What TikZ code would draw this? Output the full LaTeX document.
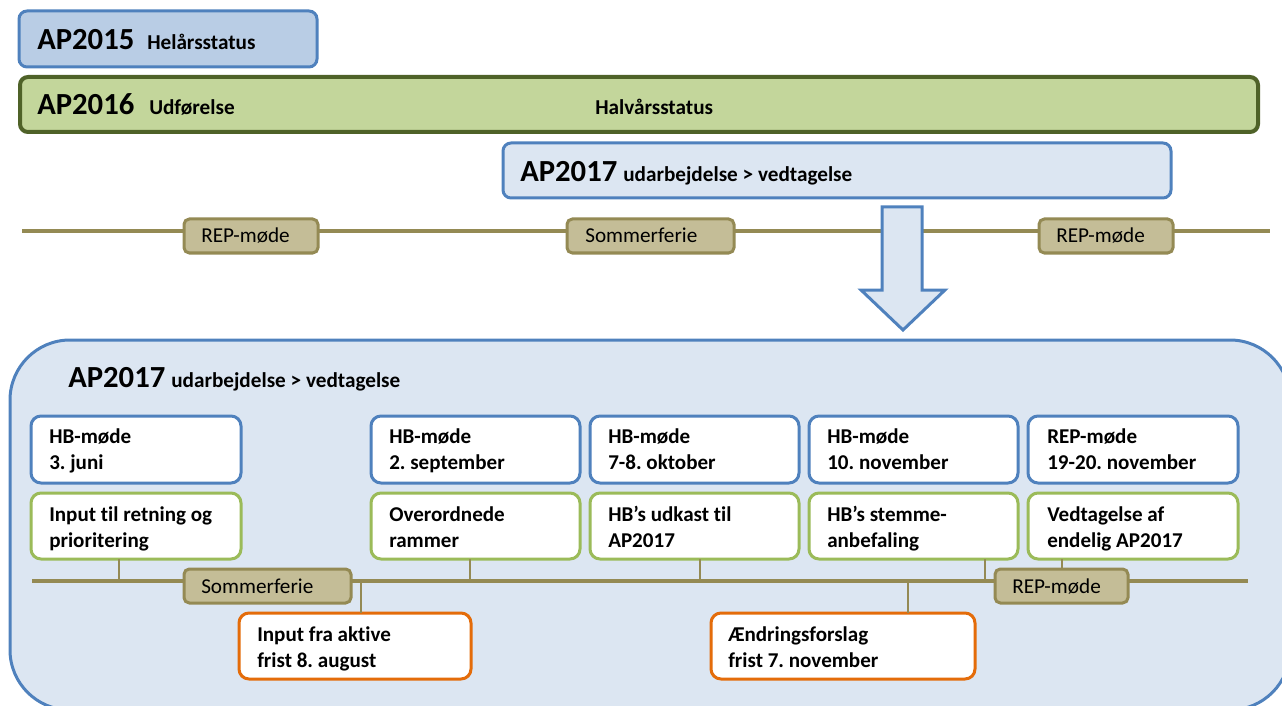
\documentclass[tikz,border=0pt]{standalone}
\usepackage{fontspec}
\setmainfont{Carlito}[Ligatures=NoCommon]
\usetikzlibrary{fit}
\definecolor{bluebd}{HTML}{4F81BD}
\definecolor{apfifteen}{HTML}{B9CDE5}
\definecolor{apsixteen}{HTML}{C3D69B}
\definecolor{apsixteenbd}{HTML}{4F6228}
\definecolor{apseventeen}{HTML}{DCE6F2}
\definecolor{olive}{HTML}{948A54}
\definecolor{repfill}{HTML}{C4BD97}
\definecolor{greenbd}{HTML}{9BBB59}
\definecolor{orangebd}{HTML}{E46C0A}
\frenchspacing
\begin{document}
\begin{tikzpicture}[x=0.75pt,y=-0.75pt,
  bigt/.style={font=\fontsize{23}{27}\selectfont\bfseries, inner sep=0, anchor=base west},
  subt/.style={font=\fontsize{15.9}{19}\selectfont\bfseries, inner sep=0, anchor=base west},
  bt/.style={font=\fontsize{15.8}{19}\selectfont\bfseries, inner sep=0, anchor=base west},
  rt/.style={font=\fontsize{15.9}{19}\selectfont, inner sep=0, anchor=base west},
  fitbox/.style={inner sep=0, outer sep=0},
  topbox/.style={fitbox, line width=2.25pt, rounded corners=6pt},
  hb/.style={fitbox, draw=bluebd, line width=2.25pt, fill=white, rounded corners=7.5pt},
  gr/.style={hb, draw=greenbd},
  org/.style={hb, draw=orangebd},
  rep/.style={fitbox, draw=olive, line width=2.25pt, fill=repfill, rounded corners=4pt},
  tline/.style={draw=olive, line width=3pt},
  conn/.style={draw=olive, line width=1.1pt},
  bigarrow/.style={draw=bluebd, fill=apseventeen, line width=2.25pt, line join=miter},
]
\useasboundingbox (0,0) rectangle (1282,706);
\clip (0,0) rectangle (1282,706);

% ---- top part ----
\node[topbox, draw=bluebd, fill=apfifteen, fit={(19,11) (317,67)}] (apfifteen) {};
\node[bigt] (tfifteen) at (37,50) {AP2015};
\node[subt] (sfifteen) at (147,50) {Helårsstatus};

\node[topbox, draw=apsixteenbd, fill=apsixteen, line width=3pt, fit={(20,77) (1258,132)}] (apsixteen) {};
\node[bigt] (tsixteen) at (37,115) {AP2016};
\node[subt] (ssixteen) at (149,115) {Udførelse};
\node[subt] (halv) at (595,115) {Halvårsstatus};

\node[topbox, draw=bluebd, fill=apseventeen, fit={(503,143) (1171,198)}] (apseventeen) {};
\node[bigt] (tseventeen) at (520,182) {AP2017};
\node[subt] (sseventeen) at (623,182) {udarbejdelse > vedtagelse};

\coordinate (ttL) at (22,231);
\coordinate (ttR) at (1270,231);
\draw[tline] (ttL) -- (ttR);
\node[rep, fit={(184,219) (318,253)}] (repA) {};
\node[rt] (repAt) at (201,243) {REP-møde};
\node[rep, fit={(567,219) (734,253)}] (somA) {};
\node[rt] (somAt) at (585,243) {Sommerferie};
\node[rep, fit={(1039,219) (1173,253)}] (repB) {};
\node[rt] (repBt) at (1056,243) {REP-møde};

\draw[bigarrow] (882,207) -- (922,207) -- (922,290) -- (945,290) -- (903,330) -- (861,290) -- (882,290) -- cycle;

% ---- lower container ----
\node[fitbox, draw=bluebd, fill=apseventeen, line width=2.25pt, rounded corners=45pt, fit={(10,340) (1290,710)}] (big) {};
\node[bigt] (tbig) at (68,387) {AP2017};
\node[subt] (sbig) at (171,387) {udarbejdelse > vedtagelse};

% row 1
\node[hb, fit={(31,416) (241,483)}] (hA) {};
\node[bt] at (49,443) {HB-møde};
\node[bt] at (49,469) {3. juni};
\node[hb, fit={(371,416) (580,483)}] (hB) {};
\node[bt] at (389,443) {HB-møde};
\node[bt] at (389,469) {2. september};
\node[hb, fit={(590,416) (799,483)}] (hC) {};
\node[bt] at (608,443) {HB-møde};
\node[bt] at (608,469) {7-8. oktober};
\node[hb, fit={(809,416) (1018,483)}] (hD) {};
\node[bt] at (827,443) {HB-møde};
\node[bt] at (827,469) {10. november};
\node[hb, fit={(1028,416) (1238,483)}] (hE) {};
\node[bt] at (1047,443) {REP-møde};
\node[bt] at (1047,469) {19-20. november};

% row 2
\node[gr, fit={(31,493) (241,559)}] (gA) {};
\node[bt] at (49,521) {Input til retning og};
\node[bt] at (49,547) {prioritering};
\node[gr, fit={(371,493) (580,559)}] (gB) {};
\node[bt] at (389,521) {Overordnede};
\node[bt] at (389,547) {rammer};
\node[gr, fit={(590,493) (799,559)}] (gC) {};
\node[bt] at (608,521) {HB’s udkast til};
\node[bt] at (608,547) {AP2017};
\node[gr, fit={(809,493) (1018,559)}] (gD) {};
\node[bt] at (827,521) {HB’s stemme-};
\node[bt] at (827,547) {anbefaling};
\node[gr, fit={(1028,493) (1238,559)}] (gE) {};
\node[bt] at (1047,521) {Vedtagelse af};
\node[bt] at (1047,547) {endelig AP2017};

% lower timeline
\coordinate (tlL) at (32,581);
\coordinate (tlR) at (1248,581);
\coordinate (cA) at (119,581);
\coordinate (cB) at (470,581);
\coordinate (cC) at (700,581);
\coordinate (cD) at (985,581);
\coordinate (cE) at (1062,581);
\coordinate (oA) at (361,581);
\coordinate (oB) at (908,581);
\draw[tline] (tlL) -- (tlR);
\draw[conn] (cA |- gA.south) -- (cA);
\draw[conn] (cB |- gB.south) -- (cB);
\draw[conn] (cC |- gC.south) -- (cC);
\draw[conn] (cD |- gD.south) -- (cD);

% orange boxes
\node[org, fit={(239,613) (471,679)}] (oxA) {};
\node[bt] at (257,641) {Input fra aktive};
\node[bt] at (257,667) {frist 8. august};
\node[org, fit={(711,613) (975,679)}] (oxB) {};
\node[bt] at (728,641) {Ændringsforslag};
\node[bt] at (728,667) {frist 7. november};
\draw[conn] (oA) -- (oA |- oxA.north);
\draw[conn] (oB) -- (oB |- oxB.north);

% timeline labels
\node[rep, fit={(184,569) (351,603)}] (somB) {};
\node[rt] (somBt) at (201,593) {Sommerferie};
\node[rep, fit={(995,569) (1128,603)}] (repC) {};
\node[rt] (repCt) at (1012,593) {REP-møde};
\draw[conn] (cE |- gE.south) -- (cE |- repC.north);
\end{tikzpicture}
\end{document}
